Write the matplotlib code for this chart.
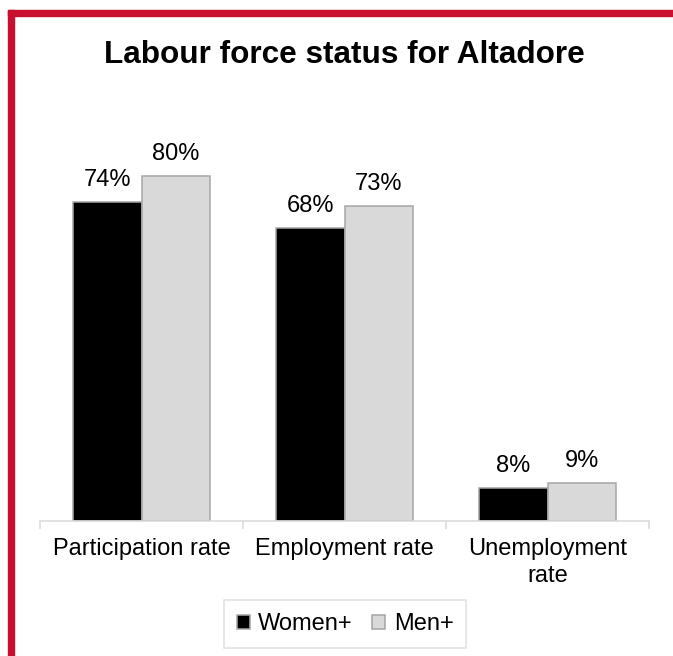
import matplotlib
matplotlib.use('Agg')
import matplotlib.pyplot as plt
from matplotlib.patches import Rectangle
import numpy as np

plt.rcParams['font.family'] = ['Liberation Sans', 'DejaVu Sans']

title = 'Labour force status for Altadore'
categories = ['Participation rate', 'Employment rate', 'Unemployment\nrate']
series_names = ['Women+', 'Men+']
women = [74, 68, 7.6]
men = [80, 73, 8.8]

W, H = 673, 656
fig = plt.figure(figsize=(W / 100, H / 100), dpi=100)
ax = fig.add_axes([40 / W, 135 / H, 609 / W, 388 / H])

x = np.arange(len(categories))
w = 0.335
b1 = ax.bar(x - w / 2, women, w, color='black', edgecolor='#A6A6A6',
            linewidth=1.1, label=series_names[0])
b2 = ax.bar(x + w / 2, men, w, color='#D9D9D9', edgecolor='#A6A6A6',
            linewidth=1.1, label=series_names[1])

for bars, vals in ((b1, women), (b2, men)):
    for rect, v in zip(bars, vals):
        ax.annotate(f'{v:.0f}%', (rect.get_x() + rect.get_width() / 2, v),
                    xytext=(0, 11.5), textcoords='offset points',
                    ha='center', va='baseline', fontsize=17)

ax.set_xlim(-0.5, 2.5)
ax.set_ylim(0, 90)
for s in ('top', 'left', 'right'):
    ax.spines[s].set_visible(False)
ax.spines['bottom'].set_color('#D9D9D9')
ax.spines['bottom'].set_linewidth(1.1)
ax.set_yticks([])
ax.set_xticks(x)
ax.set_xticklabels(categories, fontsize=17, linespacing=1.3)
ax.tick_params(axis='x', which='major', length=0, pad=12)
ax.set_xticks([-0.5, 0.5, 1.5, 2.5], minor=True)
ax.tick_params(axis='x', which='minor', length=5.8, color='#D9D9D9', width=1.1)

fig.text(344 / W, 1 - 63 / H, title, ha='center', va='baseline',
         fontsize=22.7, fontweight='bold')

leg = fig.legend(handles=[b1, b2], labels=series_names, loc='center',
                 bbox_to_anchor=(345 / W, 1 - 624 / H), ncol=2, frameon=True,
                 fancybox=False, edgecolor='#D9D9D9', fontsize=17,
                 handlelength=0.55, handleheight=0.55, handletextpad=0.35,
                 columnspacing=0.85, borderpad=0.55, borderaxespad=0)
leg.get_frame().set_linewidth(1.1)

red = '#C8102E'
fig.patches.append(Rectangle((8 / W, 0), 6 / W, (H - 10) / H,
                             transform=fig.transFigure, color=red))
fig.patches.append(Rectangle((8 / W, 1 - 16 / H), 1 - 8 / W, 6 / H,
                             transform=fig.transFigure, color=red))

fig.savefig('out.png', dpi=100)
